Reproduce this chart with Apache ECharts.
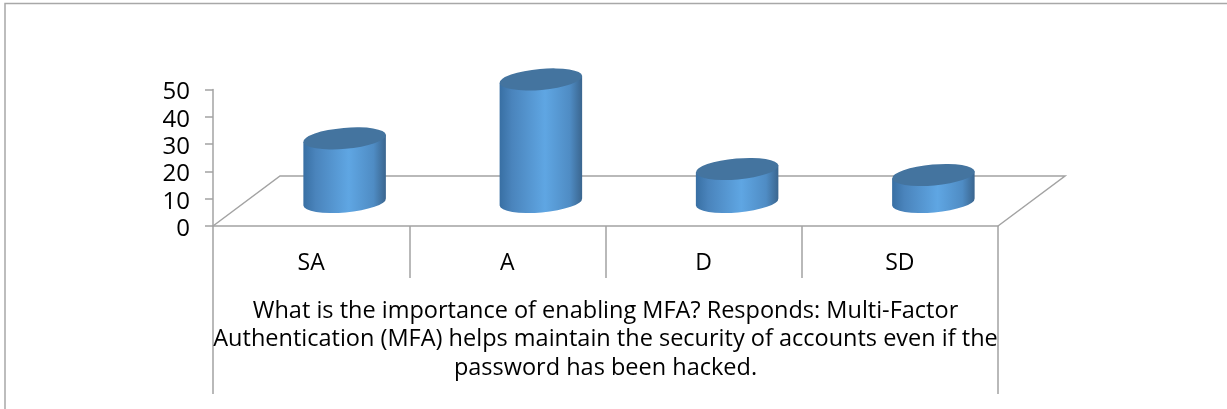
<!DOCTYPE html>
<html>
<head>
<meta charset="utf-8">
<title>MFA</title>
<script src="https://cdn.jsdelivr.net/npm/echarts@6/dist/echarts.min.js"></script>
<style>
html, body { margin: 0; padding: 0; background: #fff; }
#main { width: 1227px; height: 409px; }
</style>
</head>
<body>
<div id="main"></div>
<script>
var categories = ['SA', 'A', 'D', 'SD'];
var values = [23.3, 44.9, 12.1, 9.9];
var question = ['What is the importance of enabling MFA? Responds: Multi-Factor\nAuthentication (MFA) helps maintain the security of accounts even if the\npassword has been hacked.'];
var yTicks = {min: 0, max: 50, interval: 10};

var lineColor = '#a3a3a3';
var fontName = '"Open Sans", sans-serif';

// 地板的透视偏移
var floorSkewX = 67;
var floorDepth = 50;
var tilt = 5;

// 一条椭圆路径，用两段弧
function ellipsePath(cx, cy, rx, ry) {
    var dx = rx * Math.cos(tilt * Math.PI / 180);
    var dy = rx * Math.sin(tilt * Math.PI / 180);
    return 'M' + (cx - dx) + ' ' + (cy + dy)
        + ' A' + rx + ' ' + ry + ' ' + (-tilt) + ' 1 1 ' + (cx + dx) + ' ' + (cy - dy)
        + ' A' + rx + ' ' + ry + ' ' + (-tilt) + ' 1 1 ' + (cx - dx) + ' ' + (cy + dy) + ' Z';
}

function bodyPath(cx, topY, bottomY, rx, ry) {
    var dx = rx * Math.cos(tilt * Math.PI / 180);
    var dy = rx * Math.sin(tilt * Math.PI / 180);
    return 'M' + (cx - dx) + ' ' + (topY + dy)
        + ' L' + (cx - dx) + ' ' + (bottomY + dy)
        + ' A' + rx + ' ' + ry + ' ' + (-tilt) + ' 0 0 ' + (cx + dx) + ' ' + (bottomY - dy)
        + ' L' + (cx + dx) + ' ' + (topY - dy) + ' Z';
}

function renderFloor(params, api) {
    var rect = params.coordSys;
    var x0 = rect.x, x1 = rect.x + rect.width, y0 = rect.y + rect.height;
    return {
        type: 'polyline',
        silent: true,
        shape: {
            points: [[x0, y0], [x0 + floorSkewX, y0 - floorDepth], [x1 + floorSkewX, y0 - floorDepth], [x1, y0]]
        },
        style: {fill: null, stroke: lineColor, lineWidth: 1.5}
    };
}

function renderCylinder(params, api) {
    var idx = api.value(0);
    var top = api.coord([idx, api.value(1)]);
    var base = api.coord([idx, 0]);
    var band = api.size([1, 0])[0];
    var rx = band * 0.211;
    var ry = 10.5;
    var cx = base[0] + floorSkewX / 2;
    var baseY = base[1] - floorDepth / 2 + 1;
    var topY = top[1] - floorDepth / 2 + 1;
    return {
        type: 'group',
        children: [{
            type: 'path',
            shape: {pathData: bodyPath(cx, topY, baseY, rx, ry)},
            style: {
                fill: new echarts.graphic.LinearGradient(0, 0, 1, 0, [
                    {offset: 0, color: '#386fa3'},
                    {offset: 0.15, color: '#4a84bc'},
                    {offset: 0.55, color: '#5fa6e3'},
                    {offset: 0.85, color: '#4f8cc4'},
                    {offset: 1, color: '#3a658e'}
                ])
            }
        }, {
            type: 'path',
            shape: {pathData: ellipsePath(cx, topY, rx, ry)},
            style: {fill: '#44749f'}
        }]
    };
}

var myChart = echarts.init(document.getElementById('main'), null, {renderer: 'canvas'});
var option = {
    animation: false,
    backgroundColor: '#fff',
    graphic: [{
        type: 'polyline',
        silent: true,
        shape: {points: [[5, 409], [5, 3.5], [1227, 3.5]]},
        style: {fill: null, stroke: '#a8a8a8', lineWidth: 1.5}
    }],
    grid: {left: 213, right: 229, top: 89.5, bottom: 183},
    xAxis: [{
        type: 'category',
        data: categories,
        position: 'bottom',
        axisLine: {lineStyle: {color: lineColor, width: 1.5}},
        axisTick: {show: true, length: 52, lineStyle: {color: lineColor, width: 1.5}},
        axisLabel: {
            color: '#000',
            fontFamily: fontName,
            fontSize: 23,
            margin: 26
        }
    }, {
        type: 'category',
        data: question,
        position: 'bottom',
        axisLine: {show: false},
        axisTick: {show: true, length: 168, lineStyle: {color: lineColor, width: 1.5}},
        axisLabel: {
            color: '#000',
            fontFamily: fontName,
            fontSize: 23.5,
            lineHeight: 28.5,
            margin: 71,
            interval: 0,
            width: 800,
            overflow: 'none'
        }
    }],
    yAxis: {
        type: 'value',
        min: yTicks.min,
        max: yTicks.max,
        interval: yTicks.interval,
        splitLine: {show: false},
        axisLine: {show: true, lineStyle: {color: lineColor, width: 1.5}},
        axisTick: {show: true, length: 8, lineStyle: {color: lineColor, width: 1.5}},
        axisLabel: {
            color: '#000',
            fontFamily: fontName,
            fontSize: 24,
            margin: 23,
            verticalAlign: 'top',
            lineHeight: 6
        }
    },
    series: [{
        name: 'floor',
        type: 'custom',
        silent: true,
        z: 1,
        renderItem: renderFloor,
        data: [[0, 0]]
    }, {
        name: 'MFA',
        type: 'custom',
        z: 2,
        renderItem: renderCylinder,
        encode: {x: 0, y: 1},
        data: values.map(function (v, i) {
            return [i, v];
        })
    }]
};
myChart.setOption(option);
</script>
</body>
</html>
